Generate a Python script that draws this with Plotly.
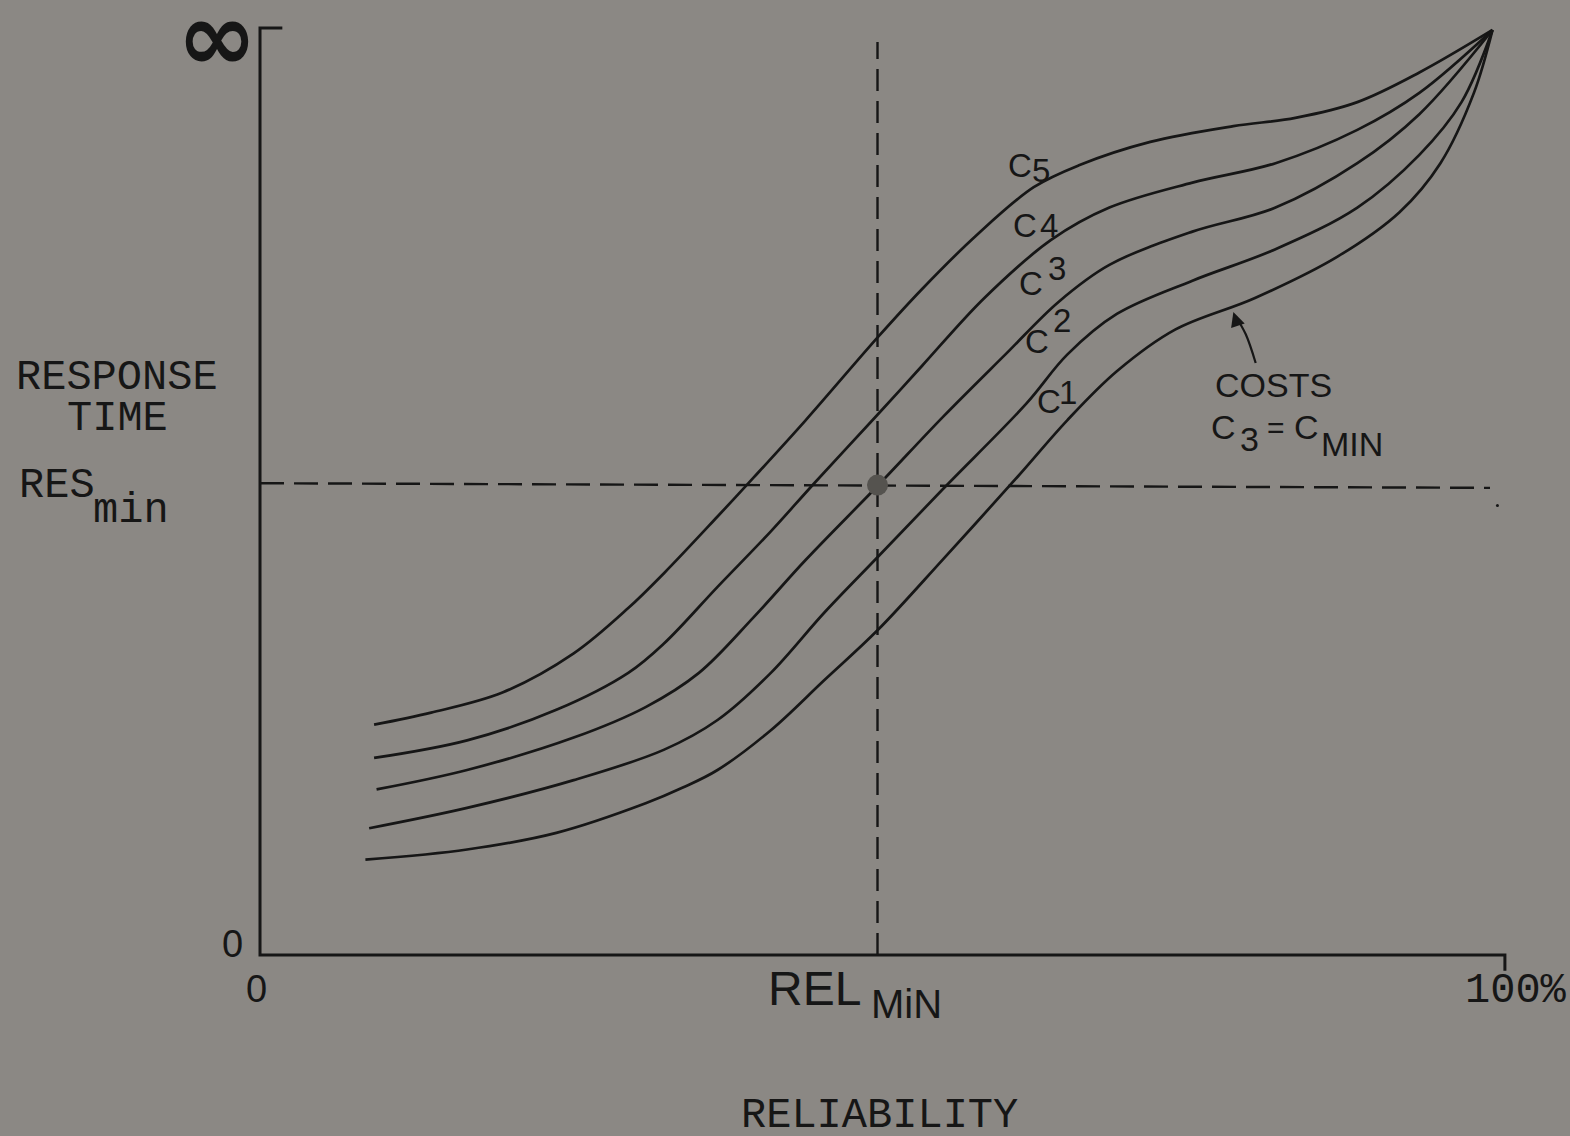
import plotly.graph_objects as go

# Reliability (%) vs response time (% of axis height, top = infinity)
c5_x = [9.2, 13.8, 19.6, 25.3, 29.7, 32.6, 36.9, 39.8, 44.0, 49.9, 53.4, 57.7, 62.4, 66.1, 71.8, 78.5, 83.5, 88.5, 93.5, 99.4]
c5_y = [24.9, 26.2, 28.4, 32.6, 37.5, 41.3, 47.4, 51.6, 57.8, 66.9, 72.0, 77.7, 83.0, 85.4, 87.9, 89.6, 90.5, 92.2, 95.4, 100.0]
c4_x = [9.2, 16.7, 23.9, 29.7, 32.6, 36.9, 41.2, 44.7, 49.8, 53.4, 58.4, 63.8, 68.5, 75.2, 81.9, 88.5, 93.5, 99.4]
c4_y = [21.3, 23.2, 26.5, 30.5, 33.7, 39.8, 45.8, 51.0, 58.4, 63.7, 71.0, 77.3, 80.8, 83.5, 85.6, 89.2, 93.2, 100.0]
c3_x = [9.4, 16.7, 25.3, 31.1, 35.4, 39.8, 44.0, 49.8, 55.1, 60.1, 64.4, 68.5, 75.2, 81.9, 88.5, 93.5, 99.4]
c3_y = [17.9, 20.0, 23.5, 26.8, 30.5, 36.5, 42.7, 50.7, 58.2, 64.9, 70.6, 74.6, 78.2, 80.8, 85.6, 90.9, 100.0]
c2_x = [8.8, 16.7, 25.3, 32.6, 36.9, 41.2, 45.5, 49.8, 55.1, 61.8, 65.1, 69.1, 75.2, 81.9, 88.5, 93.5, 96.9, 99.4]
c2_y = [13.7, 15.9, 18.9, 22.2, 25.4, 30.5, 37.0, 43.0, 50.4, 59.6, 64.9, 69.3, 72.9, 76.3, 80.8, 86.5, 92.2, 100.0]
c1_x = [8.5, 16.7, 23.9, 31.1, 34.1, 36.9, 41.2, 45.5, 49.8, 55.1, 61.1, 65.1, 69.1, 73.8, 80.2, 86.9, 91.9, 95.2, 97.9, 99.4]
c1_y = [10.3, 11.4, 13.2, 16.4, 18.1, 20.0, 24.3, 29.7, 35.1, 42.8, 51.7, 57.8, 63.1, 67.6, 71.0, 75.5, 80.3, 85.6, 93.2, 100.0]

rel_min = 49.8
res_min = 50.8

# curve labels: letter and index digit
label_digits = ["5", "4", "3", "2", "1"]
label_c_x = [61.3, 61.7, 62.2, 62.7, 63.6]
label_c_y = [85.4, 78.9, 72.6, 66.3, 59.8]
label_d_x = [63.0, 63.6, 64.3, 64.7, 65.2]
label_d_y = [84.8, 78.9, 74.2, 68.6, 60.8]

BG = "#8b8884"
INK = "#161616"
MONO = "Liberation Mono, Courier New, monospace"
SANS = "Liberation Sans, Arial, sans-serif"

fig = go.Figure()

for xs, ys in [(c5_x, c5_y), (c4_x, c4_y), (c3_x, c3_y), (c2_x, c2_y), (c1_x, c1_y)]:
    fig.add_trace(go.Scatter(x=xs, y=ys, mode="lines",
                             line=dict(color=INK, width=2.7, shape="spline", smoothing=1.0),
                             hoverinfo="skip", showlegend=False))

# axes (hand drawn style)
fig.add_trace(go.Scatter(x=[1.8, 0, 0, 100.4, 100.4], y=[100.2, 100.2, 0, 0, -1.7], mode="lines",
                         line=dict(color=INK, width=3), hoverinfo="skip", showlegend=False))

# dashed guide lines
fig.add_trace(go.Scatter(x=[0, 99.2], y=[res_min + 0.2, res_min - 0.3], mode="lines",
                         line=dict(color=INK, width=2.4, dash="24px,10px"), hoverinfo="skip", showlegend=False))
fig.add_trace(go.Scatter(x=[rel_min, rel_min], y=[0, 98.7], mode="lines",
                         line=dict(color=INK, width=2.4, dash="22px,10px"), hoverinfo="skip", showlegend=False))

# optimum point
fig.add_trace(go.Scatter(x=[rel_min], y=[res_min], mode="markers",
                         marker=dict(color="#55534f", size=21, line=dict(width=0)),
                         hoverinfo="skip", showlegend=False))
fig.add_trace(go.Scatter(x=[99.8], y=[48.6], mode="markers",
                         marker=dict(color=INK, size=3), hoverinfo="skip", showlegend=False))

# annotation arrow (curved stem)
fig.add_trace(go.Scatter(x=[80.3, 79.5, 78.7], y=[64.0, 67.1, 69.0], mode="lines",
                         line=dict(color=INK, width=2.2, shape="spline"), hoverinfo="skip", showlegend=False))

ann = []
def txt(x, y, t, size, font, xanchor="center", yanchor="middle"):
    ann.append(dict(x=x, y=y, text=t, showarrow=False, xanchor=xanchor, yanchor=yanchor,
                    font=dict(size=size, family=font, color=INK)))

txt(-3.5, 99.2, "<b>∞</b>", 96, "DejaVu Sans")
txt(-11.5, 62.4, "RESPONSE", 42, MONO)
txt(-11.5, 57.9, "TIME", 42, MONO)
txt(-19.6, 50.7, "RES", 42, MONO, xanchor="left")
txt(-13.6, 48.0, "min", 42, MONO, xanchor="left")
txt(50.0, -17.4, "RELIABILITY", 42, MONO)
txt(-2.2, 1.2, "0", 38, SANS)
txt(-0.3, -3.7, "0", 38, SANS)
txt(44.7, -3.6, "REL", 48, SANS)
txt(52.1, -5.3, "MiN", 40, SANS)
txt(101.3, -3.9, "100%", 42, MONO)
for d, cx, cy, dx, dy in zip(label_digits, label_c_x, label_c_y, label_d_x, label_d_y):
    txt(cx, cy, "C", 33, SANS)
    txt(dx, dy, d, 33, SANS)
txt(81.7, 61.6, "COSTS", 34, SANS)
txt(77.7, 57.1, "C", 34, SANS)
txt(79.8, 55.8, "3", 34, SANS)
txt(81.9, 57.0, "=", 30, SANS)
txt(84.4, 57.1, "C", 34, SANS)
txt(88.1, 55.2, "MIN", 34, SANS)

ann.append(dict(x=78.5, y=69.5, ax=78.8, ay=68.3, xref="x", yref="y", axref="x", ayref="y",
                showarrow=True, arrowhead=2, arrowsize=1.3, arrowwidth=2.2, arrowcolor=INK, text=""))

fig.update_layout(
    width=1570, height=1136,
    margin=dict(l=0, r=0, t=0, b=0),
    paper_bgcolor=BG, plot_bgcolor=BG,
    xaxis=dict(range=[-20.97, 105.65], visible=False, fixedrange=True),
    yaxis=dict(range=[-19.57, 103.24], visible=False, fixedrange=True),
    annotations=ann,
    showlegend=False,
)

fig.write_html("out.html", config={"displayModeBar": False},
               post_script="document.body.style.margin='0';document.body.style.overflow='hidden';")
